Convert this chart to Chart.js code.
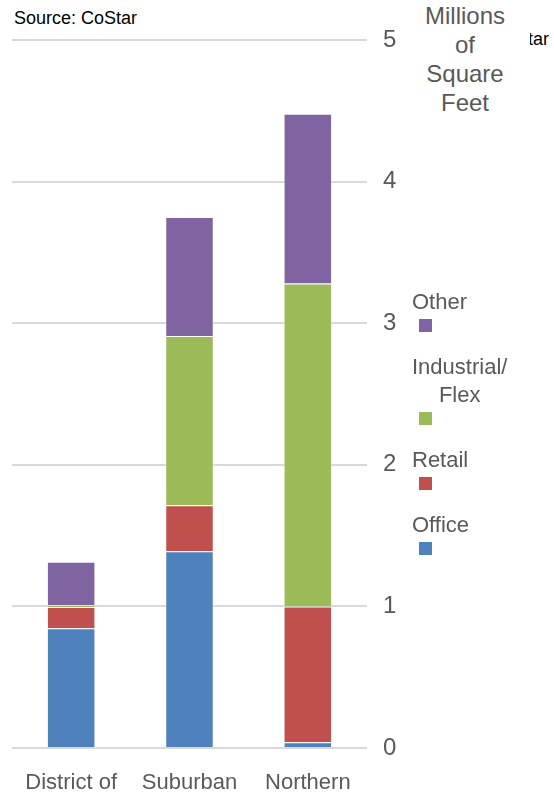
<!DOCTYPE html>
<html>
<head>
<meta charset="utf-8">
<script src="https://cdn.jsdelivr.net/npm/chart.js@4/dist/chart.umd.min.js"></script>
<style>
  body { margin: 0; width: 554px; height: 795px; background: #fff; position: relative; overflow: hidden;
         font-family: "Liberation Sans", Arial, sans-serif; }
  #wrap { position: absolute; left: 0; top: 0; width: 420px; height: 795px; }
  .source { position: absolute; font-size: 18px; color: #000; white-space: nowrap; }
  #title { position: absolute; left: 400px; top: 1px; width: 130px; background: #fff;
           text-align: center; font-size: 24px; line-height: 29px; color: #595959; }
  .legItem { position: absolute; left: 412px; font-size: 22px; line-height: 28px; color: #595959; text-align: center; }
  .legItem .box { width: 13px; height: 13px; margin: 3px 0 0 7px; }
</style>
</head>
<body>
<div class="source" style="left:14px; top:8px;">Source: CoStar</div>
<div class="source" style="right:5px; top:29px;">Source: CoStar</div>
<div id="title">Millions<br>of<br>Square<br>Feet</div>
<div id="wrap"><canvas id="chart" width="420" height="795"></canvas></div>
<div id="legend"></div>
<script>
// data
const regions = ['District of', 'Suburban', 'Northern'];
const office = [0.845, 1.39, 0.04];
const retail = [0.15, 0.325, 0.96];
const industrial = [0.015, 1.195, 2.28];
const other = [0.305, 0.84, 1.20];
const yTicks = [0, 1, 2, 3, 4, 5];

const seriesNames = ['Office', 'Retail', 'Industrial/Flex', 'Other'];
const seriesColors = ['#4F81BD', '#C0504D', '#9BBB59', '#8064A2'];
const seriesData = [office, retail, industrial, other];

let datasets = [];
for (let i = 0; i < seriesNames.length; i++){
    datasets.push({
        label: seriesNames[i],
        data: seriesData[i],
        backgroundColor: seriesColors[i],
        borderColor: 'rgba(255,255,255,0.25)',
        borderWidth: 1,
        barPercentage: 0.41,
        categoryPercentage: 1.0
    });
}

const ctx = document.querySelector('#chart').getContext('2d');
const chart = new Chart(ctx, {
    type: 'bar',
    data: { labels: regions, datasets: datasets },
    options: {
        responsive: false,
        animation: false,
        layout: { padding: { left: 12, top: 40, right: 0, bottom: 0 } },
        plugins: { legend: { display: false }, tooltip: { enabled: false } },
        scales: {
            x: {
                stacked: true,
                grid: { display: false, drawTicks: false },
                border: { display: false },
                ticks: { color: '#595959', font: { family: 'Liberation Sans', size: 22 }, padding: 22, maxRotation: 0, autoSkip: false },
                afterFit: function (scale) { scale.height = 47; }
            },
            y: {
                stacked: true,
                position: 'right',
                min: 0,
                max: 5,
                afterBuildTicks: function (scale) { scale.ticks = yTicks.map(v => ({ value: v })); },
                grid: { color: '#d9d9d9', lineWidth: 2, drawTicks: false },
                border: { display: false },
                ticks: { color: '#595959', font: { family: 'Liberation Sans', size: 24 }, padding: 16 },
                afterFit: function (scale) { scale.width = 53; }
            }
        }
    }
});

//legend: reversed order, label above a small square
const legendTops = [288, 353, 446, 511];
const legendLabels = ['Other', 'Industrial/<br>Flex', 'Retail', 'Office'];
const legend = document.querySelector('#legend');
for (let k = 0; k < legendLabels.length; k++){
    const idx = seriesNames.length - 1 - k;
    const item = document.createElement('div');
    item.className = 'legItem';
    item.style.top = legendTops[k] + 'px';
    item.innerHTML = '<div>' + legendLabels[k] + '</div><div class="box" style="background:' + seriesColors[idx] + '"></div>';
    legend.appendChild(item);
}
</script>
</body>
</html>
